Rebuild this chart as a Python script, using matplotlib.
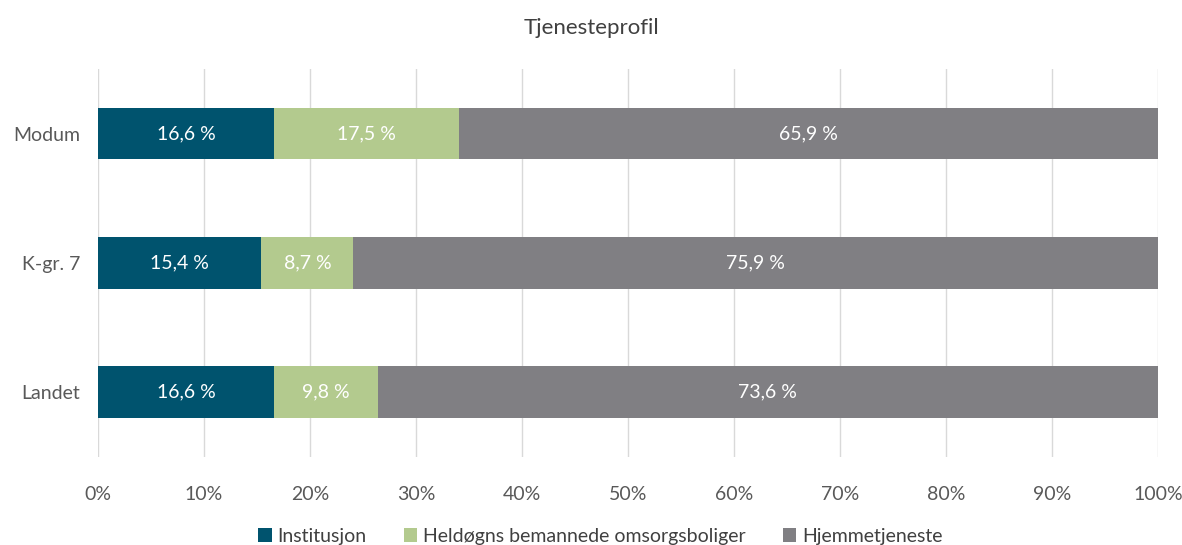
import matplotlib
matplotlib.use("Agg")
import matplotlib.pyplot as plt
from matplotlib.patches import Patch

plt.rcParams['font.family'] = ['Lato', 'DejaVu Sans']

categories = ["Modum", "K-gr. 7", "Landet"]
series_names = ["Institusjon", "Heldøgns bemannede omsorgsboliger", "Hjemmetjeneste"]
institusjon = [16.6, 15.4, 16.6]
heldogns = [17.5, 8.7, 9.8]
hjemmetjeneste = [65.9, 75.9, 73.6]
xtick_values = [0, 10, 20, 30, 40, 50, 60, 70, 80, 90, 100]
xtick_labels = [f"{v}%" for v in xtick_values]

colors = ["#00536E", "#B3CA8E", "#807F83"]
label_colors = ["white", "white", "white"]

fig = plt.figure(figsize=(11.82, 5.45), dpi=100)
ax = fig.add_axes([0.0829, 0.1615, 0.8968, 0.712])

series = [institusjon, heldogns, hjemmetjeneste]
y = list(range(len(categories)))
left = [0.0] * len(categories)
for vals, col, name, lc in zip(series, colors, series_names, label_colors):
    ax.barh(y, vals, left=left, height=0.4, color=col, label=name, zorder=3)
    for yi, v, l in zip(y, vals, left):
        ax.text(l + v / 2, yi, f"{v:.1f} %".replace(".", ","), ha="center", va="center",
                color=lc, fontsize=14, zorder=4)
    left = [a + b for a, b in zip(left, vals)]

ax.set_xlim(0, 100)
ax.set_ylim(2.5, -0.5)
ax.set_xticks(xtick_values)
ax.set_xticklabels(xtick_labels)
ax.set_yticks(y)
ax.set_yticklabels(categories)
ax.tick_params(axis='both', length=0, colors="#595959", labelsize=14)
ax.tick_params(axis='x', pad=21)
ax.tick_params(axis='y', pad=13)
ax.grid(axis='x', color="#D9D9D9", linewidth=1, zorder=0)
for s in ax.spines.values():
    s.set_visible(False)

fig.text(0.5, 0.948, "Tjenesteprofil", ha="center", va="center", fontsize=16, color="#404040")

handles = [Patch(facecolor=c, label=n) for c, n in zip(colors, series_names)]
fig.legend(handles=handles, loc="center", bbox_to_anchor=(0.508, 0.016), ncol=3, frameon=False,
           fontsize=14, handlelength=0.7, handleheight=0.7, handletextpad=0.3, columnspacing=1.9,
           labelcolor="#404040")

fig.savefig("out.png", dpi=100)
